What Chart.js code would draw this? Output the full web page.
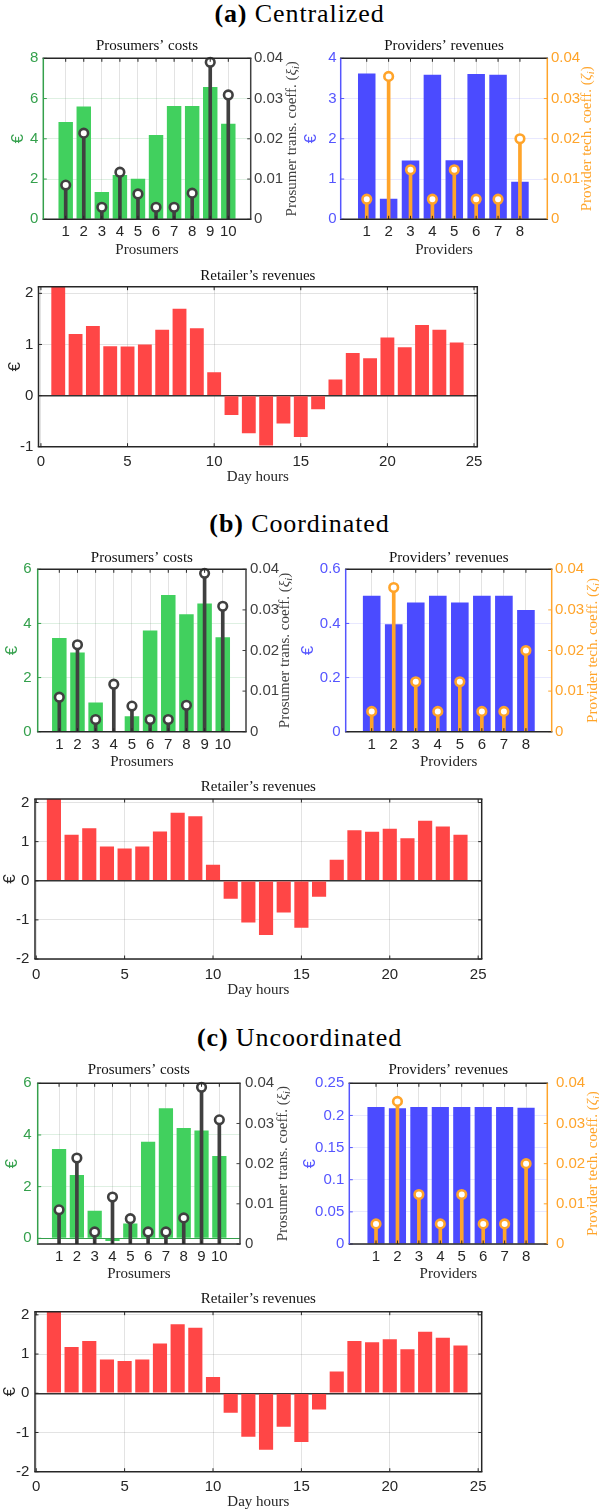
<!DOCTYPE html>
<html><head><meta charset="utf-8">
<script src="https://cdn.jsdelivr.net/npm/chart.js@4.4.1/dist/chart.umd.min.js"></script>
<style>
html,body{margin:0;padding:0;background:#fff;width:599px;height:1511px;overflow:hidden;position:relative}
canvas{position:absolute}
.hdr{position:absolute;left:0;width:599px;text-align:center;font-family:'Liberation Serif','Times New Roman',serif;font-size:26px;letter-spacing:0.9px;color:#000;line-height:30px;white-space:nowrap}
</style></head><body>
<div class="hdr" style="top:-1px"><b>(a)</b> Centralized</div>
<div class="hdr" style="top:509px"><b>(b)</b> Coordinated</div>
<div class="hdr" style="top:1023px"><b>(c)</b> Uncoordinated</div>
<canvas id="A1"></canvas><canvas id="A2"></canvas><canvas id="A3"></canvas>
<canvas id="B1"></canvas><canvas id="B2"></canvas><canvas id="B3"></canvas>
<canvas id="C1"></canvas><canvas id="C2"></canvas><canvas id="C3"></canvas>
<script>
// ---------------- DATA ----------------
const prosumers = [1,2,3,4,5,6,7,8,9,10];
const providers = [1,2,3,4,5,6,7,8];
const hours = [1,2,3,4,5,6,7,8,9,10,11,12,13,14,15,16,17,18,19,20,21,22,23,24];

const prosumerCoeff = [0.0085,0.0214,0.0030,0.0117,0.0063,0.0030,0.0030,0.0065,0.0390,0.0309];
const providerCoeff = [0.0050,0.0355,0.0123,0.0050,0.0123,0.0050,0.0050,0.0200];

const costsCentralized   = [4.83,5.60,1.36,2.20,2.02,4.19,5.63,5.63,6.57,4.75];
const provRevCentralized = [3.62,0.51,1.46,3.59,1.47,3.61,3.59,0.93];
const retailCentralized  = [2.13,1.205,1.36,0.964,0.958,1.00,1.29,1.70,1.316,0.456,-0.378,-0.736,-0.977,-0.547,-0.808,-0.267,0.313,0.834,0.73,1.134,0.945,1.381,1.29,1.036];

const costsCoordinated   = [3.46,2.93,1.075,0,0.575,3.74,5.05,4.34,4.74,3.49];
const provRevCoordinated = [0.502,0.397,0.477,0.502,0.477,0.502,0.502,0.45];
const retailCoordinated  = [2.09,1.174,1.345,0.877,0.826,0.877,1.26,1.736,1.651,0.408,-0.46,-1.064,-1.387,-0.809,-1.2,-0.408,0.536,1.294,1.251,1.328,1.089,1.532,1.387,1.174];

const costsUncoordinated   = [3.46,2.45,1.07,-0.1,0.57,3.74,5.03,4.27,4.17,3.19];
const provRevUncoordinated = [0.213,0.211,0.213,0.213,0.213,0.213,0.213,0.212];
const retailUncoordinated  = [2.08,1.183,1.336,0.86,0.826,0.86,1.268,1.762,1.668,0.417,-0.494,-1.106,-1.438,-0.851,-1.243,-0.417,0.553,1.336,1.302,1.379,1.123,1.566,1.413,1.217];

// tick labels
const coeffTicks = [0,0.01,0.02,0.03,0.04];
const costTicksA = [0,2,4,6,8];
const costTicksBC = [0,2,4,6];
const provTicksA = [0,1,2,3,4];
const provTicksB = [0,0.2,0.4,0.6];
const provTicksC = [0,0.05,0.1,0.15,0.2,0.25];
const retailTicksA = [-1,0,1,2];
const retailTicksBC = [-2,-1,0,1,2];
const hourTicks = [0,5,10,15,20,25];

// text
const titleCosts = 'Prosumers\u2019 costs';
const titleProv = 'Providers\u2019 revenues';
const titleRetail = 'Retailer\u2019s revenues';
const prosumerCoeffLabel = [{t:'Prosumer trans. coeff. ('},{t:'\u03BE',it:1},{t:'i',it:1,sub:1},{t:')'}];
const providerCoeffLabel = [{t:'Provider tech. coeff. ('},{t:'\u03B6',it:1},{t:'i',it:1,sub:1},{t:')'}];

// ---------------- STYLE ----------------
const SERIF = "'Liberation Serif','Times New Roman',serif";
const SANS = "'Liberation Sans',Arial,sans-serif";
Chart.defaults.font.family = SANS;
const DARK = '#262626', GREEN_BAR = '#41d05e', GREEN_TXT = '#34a04c', BLUE_BAR = '#4b4bff', BLUE_TXT = '#5555ff',
      ORANGE = '#ffa42a', RED = '#ff4646', STEM = '#404040';
const TICK_SIZE = 15;

function drawRich(ctx, segs, x, y, rot, size, color) {
  ctx.save(); ctx.translate(x, y); ctx.rotate(rot);
  ctx.fillStyle = color; ctx.textBaseline = 'middle'; ctx.textAlign = 'left';
  const fonts = segs.map(s => (s.it ? 'italic ' : '') + (s.sub ? size * 0.7 : size) + 'px ' + SERIF);
  let w = 0;
  const ws = segs.map((s, i) => { ctx.font = fonts[i]; const m = ctx.measureText(s.t).width; w += m; return m; });
  let px = -w / 2;
  segs.forEach((s, i) => { ctx.font = fonts[i]; ctx.fillText(s.t, px, s.sub ? size * 0.28 : 0); px += ws[i]; });
  ctx.restore();
}

const matlabPlugin = {
  id: 'matlab',
  afterDatasetsDraw(chart, args, o) {
    const ctx = chart.ctx, a = chart.chartArea, sc = chart.scales;
    ctx.save();
    const seg = (x1, y1, x2, y2, c, w) => { ctx.beginPath(); ctx.strokeStyle = c; ctx.lineWidth = w; ctx.moveTo(x1, y1); ctx.lineTo(x2, y2); ctx.stroke(); };
    const tl = 3.5;
    sc.x.ticks.forEach(t => { const p = sc.x.getPixelForValue(t.value); seg(p, a.bottom, p, a.bottom - tl, o.colors.bottom, 1); seg(p, a.top, p, a.top + tl, o.colors.top, 1); });
    sc.y.ticks.forEach(t => { const p = sc.y.getPixelForValue(t.value); seg(a.left, p, a.left + tl, p, o.colors.left, 1); if (!sc.y1) seg(a.right, p, a.right - tl, p, o.colors.right, 1); });
    if (sc.y1) sc.y1.ticks.forEach(t => { const p = sc.y1.getPixelForValue(t.value); seg(a.right, p, a.right - tl, p, o.colors.right, 1); });
    const bw = 1.5;
    seg(a.left - bw / 2, a.top, a.right + bw / 2, a.top, o.colors.top, bw);
    seg(a.left - bw / 2, a.bottom, a.right + bw / 2, a.bottom, o.colors.bottom, bw);
    seg(a.left, a.top, a.left, a.bottom, o.colors.left, bw);
    seg(a.right, a.top, a.right, a.bottom, o.colors.right, bw);
    ctx.fillStyle = '#111'; ctx.font = '15px ' + SERIF; ctx.textAlign = 'center'; ctx.textBaseline = 'middle';
    ctx.fillText(o.title, (a.left + a.right) / 2, o.titleY);
    if (o.rightTitle) drawRich(ctx, o.rightTitle, o.rightTitleX, (a.top + a.bottom) / 2, -Math.PI / 2, 15, o.rightTitleColor);
    ctx.restore();
  }
};

const fmt = v => String(+Number(v).toFixed(4));

function makePanel(id, g, s) {
  const [cx, cy, cw, ch] = g.canvas, [L, T, R, B] = g.area;
  const cv = document.getElementById(id);
  cv.width = cw; cv.height = ch;
  Object.assign(cv.style, {left: cx + 'px', top: cy + 'px', width: cw + 'px', height: ch + 'px'});
  const datasets = [];
  if (s.stems) {
    const pts = s.x.map((x, i) => ({x, y: s.stems[i]}));
    datasets.push({type: 'line', data: pts, yAxisID: 'y1', showLine: false, pointRadius: 4.3, pointHoverRadius: 4.3,
      pointBorderWidth: 2.6, pointBorderColor: s.stemColor, pointBackgroundColor: '#fff', order: 0, clip: false});
    datasets.push({type: 'bar', data: pts, yAxisID: 'y1', backgroundColor: s.stemColor, grouped: false,
      maxBarThickness: 3, categoryPercentage: 1, barPercentage: 1, order: 1});
  }
  datasets.push({type: 'bar', data: s.x.map((x, i) => ({x, y: s.bars[i]})), yAxisID: 'y', backgroundColor: s.barColor,
    grouped: false, categoryPercentage: 1, barPercentage: 0.8, order: 2});

  const scales = {
    x: {type: 'linear', min: g.xRange[0], max: g.xRange[1], offset: false,
      grid: {offset: false, color: 'rgba(0,0,0,0.11)', drawTicks: false}, border: {display: false},
      ticks: {autoSkip: false, includeBounds: false, maxRotation: 0, minRotation: 0, padding: g.xLabelY - B - 9,
        color: DARK, font: {size: TICK_SIZE}, callback: fmt},
      afterBuildTicks: sc => { sc.ticks = s.xTicks.map(v => ({value: v})); },
      afterFit: sc => { sc.height = cy + ch - B; sc.paddingLeft = 0; sc.paddingRight = 0; },
      title: {display: true, text: s.xTitle, color: DARK, font: {family: SERIF, size: 15}, padding: {top: 0, bottom: cy + ch - g.xTitleY - 9}}},
    y: {type: 'linear', position: 'left', min: g.yRange[0], max: g.yRange[1],
      grid: {color: s.yGrid, lineWidth: s.yGridW || 1, drawTicks: false}, border: {display: false},
      ticks: {autoSkip: false, includeBounds: false, padding: L - g.yLabelEnd, color: s.yColor, font: {size: TICK_SIZE}, callback: fmt},
      afterBuildTicks: sc => { sc.ticks = s.yTicks.map(v => ({value: v})); },
      afterFit: sc => { sc.width = L - cx; sc.paddingTop = 0; sc.paddingBottom = 0; },
      title: {display: true, text: '\u20AC', color: s.yColor, font: {size: 17}, padding: {top: g.yTitleX - cx - 10.2, bottom: 0}}}
  };
  if (s.stems) {
    scales.y1 = {type: 'linear', position: 'right', min: 0, max: 0.04,
      grid: {display: false, drawTicks: false}, border: {display: false},
      ticks: {autoSkip: false, includeBounds: false, padding: g.y1LabelStart - R, color: s.y1Color, font: {size: TICK_SIZE}, callback: fmt},
      afterBuildTicks: sc => { sc.ticks = coeffTicks.map(v => ({value: v})); },
      afterFit: sc => { sc.width = cx + cw - R; sc.paddingTop = 0; sc.paddingBottom = 0; }};
  }
  return new Chart(cv, {
    type: 'bar',
    data: {datasets},
    options: {
      responsive: false, animation: false, devicePixelRatio: 1,
      layout: {padding: {top: T - cy, left: 0, bottom: 0, right: s.stems ? 0 : cx + cw - R}},
      scales,
      plugins: {
        legend: {display: false}, tooltip: {enabled: false}, title: {display: false},
        matlab: {title: s.title, titleY: g.titleY - cy, colors: s.colors,
          rightTitle: s.rightTitle, rightTitleX: g.y1TitleX - cx, rightTitleColor: s.y1Color}
      }
    },
    plugins: [matlabPlugin]
  });
}

const gridGreen = 'rgba(52,160,76,0.16)', gridBlue = 'rgba(80,80,255,0.13)';
const retailGrid = ctx => ctx.tick && ctx.tick.value === 0 ? '#333' : 'rgba(0,0,0,0.11)';
const retailGridW = ctx => ctx.tick && ctx.tick.value === 0 ? 1.4 : 1;
const greenZero = ctx => ctx.tick && ctx.tick.value === 0 ? GREEN_TXT : gridGreen;

const prosColors = {top: DARK, bottom: DARK, left: GREEN_TXT, right: STEM};
const provColors = {top: DARK, bottom: DARK, left: BLUE_TXT, right: ORANGE};
const retColors = {top: DARK, bottom: DARK, left: DARK, right: DARK};

function prosumerPanel(id, g, costs, yTicks, yGrid) {
  return makePanel(id, g, {x: prosumers, bars: costs, barColor: GREEN_BAR, stems: prosumerCoeff, stemColor: STEM,
    xTicks: prosumers, yTicks, xTitle: 'Prosumers', title: titleCosts, yColor: GREEN_TXT, y1Color: STEM,
    yGrid: yGrid || gridGreen, colors: prosColors, rightTitle: prosumerCoeffLabel});
}
function providerPanel(id, g, rev, yTicks) {
  return makePanel(id, g, {x: providers, bars: rev, barColor: BLUE_BAR, stems: providerCoeff, stemColor: ORANGE,
    xTicks: providers, yTicks, xTitle: 'Providers', title: titleProv, yColor: BLUE_TXT, y1Color: ORANGE,
    yGrid: gridBlue, colors: provColors, rightTitle: providerCoeffLabel});
}
function retailerPanel(id, g, rev, yTicks) {
  return makePanel(id, g, {x: hours, bars: rev, barColor: RED, xTicks: hourTicks, yTicks, xTitle: 'Day hours',
    title: titleRetail, yColor: DARK, yGrid: retailGrid, yGridW: retailGridW, colors: retColors});
}

prosumerPanel('A1', {canvas:[0,34,300,226], area:[43.3,58.3,250.7,219.3], titleY:46, xLabelY:232, xTitleY:250,
  yLabelEnd:38.3, yTitleX:18.3, y1LabelStart:254, y1TitleX:291.7, xRange:[-0.24,11.24], yRange:[0,8]}, costsCentralized, costTicksA);
providerPanel('A2', {canvas:[300,34,299,226], area:[340.7,58.3,547.3,219.3], titleY:46, xLabelY:232, xTitleY:250,
  yLabelEnd:336.7, yTitleX:311.7, y1LabelStart:551, y1TitleX:587.3, xRange:[-0.19,9.25], yRange:[0,4]}, provRevCentralized, provTicksA);
retailerPanel('A3', {canvas:[0,262,599,228], area:[38.5,286.7,477.3,446.7], titleY:275.7, xLabelY:461.7, xTitleY:477.3,
  yLabelEnd:33.3, yTitleX:15, xRange:[-0.14,25.19], yRange:[-1,2.13]}, retailCentralized, retailTicksA);

prosumerPanel('B1', {canvas:[0,546,300,226], area:[37.7,569.3,246,731.7], titleY:558.3, xLabelY:745, xTitleY:762.3,
  yLabelEnd:31.7, yTitleX:12.7, y1LabelStart:250, y1TitleX:285, xRange:[-0.19,11.28], yRange:[0,6]}, costsCoordinated, costTicksBC);
providerPanel('B2', {canvas:[300,546,299,226], area:[345.7,569.3,551.7,731.7], titleY:558.3, xLabelY:745, xTitleY:762.3,
  yLabelEnd:340.7, yTitleX:308.3, y1LabelStart:555, y1TitleX:593, xRange:[-0.18,9.17], yRange:[0,0.6]}, provRevCoordinated, provTicksB);
retailerPanel('B3', {canvas:[0,775,599,230], area:[35,799,481.7,959], titleY:786.7, xLabelY:975, xTitleY:990,
  yLabelEnd:29.3, yTitleX:10.5, xRange:[-0.07,25.2], yRange:[-2,2.09]}, retailCoordinated, retailTicksBC);

prosumerPanel('C1', {canvas:[0,1058,300,232], area:[37.7,1083.3,240,1244], titleY:1070, xLabelY:1257.3, xTitleY:1274,
  yLabelEnd:31.7, yTitleX:12.7, y1LabelStart:245, y1TitleX:283.3, xRange:[-0.2,11.16], yRange:[-0.22,6]}, costsUncoordinated, costTicksBC, greenZero);
providerPanel('C2', {canvas:[300,1058,299,232], area:[349.3,1083.3,547.3,1244], titleY:1070, xLabelY:1257.3, xTitleY:1274,
  yLabelEnd:344.3, yTitleX:310.5, y1LabelStart:556, y1TitleX:593.3, xRange:[-0.246,8.99], yRange:[0,0.25]}, provRevUncoordinated, provTicksC);
retailerPanel('C3', {canvas:[0,1290,599,221], area:[35,1311.7,481.7,1471.7], titleY:1299.3, xLabelY:1486.7, xTitleY:1502.3,
  yLabelEnd:29.3, yTitleX:10.5, xRange:[-0.07,25.2], yRange:[-2,2.08]}, retailUncoordinated, retailTicksBC);
</script>
</body></html>
